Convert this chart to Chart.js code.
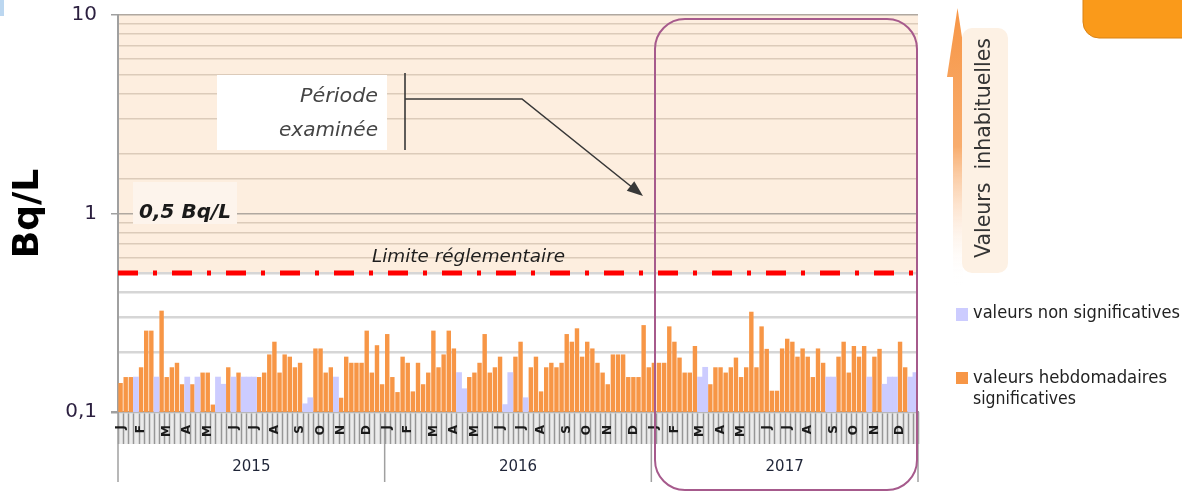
<!DOCTYPE html>
<html>
<head>
<meta charset="utf-8">
<script src="https://cdn.jsdelivr.net/npm/chart.js@4.4.1/dist/chart.umd.min.js"></script>
<style>
  html, body { margin: 0; padding: 0; background: #fff; }
  #wrap { width: 1182px; height: 495px; position: relative; }
</style>
</head>
<body>
<div id="wrap"><canvas id="chart" width="1182" height="495"></canvas></div>
<script>
// --- data (Bq/L, one bar per week) ---
const years = ['2015', '2016', '2017'];
const monthLetters = ['J', 'F', 'M', 'A', 'M', 'J', 'J', 'A', 'S', 'O', 'N', 'D'];
const monthStartWeeks = [0, 4, 9, 13, 17, 22, 26, 30, 35, 39, 43, 48];

const values2015 = [0.14, 0.15, 0.15, 0.15, 0.168, 0.257, 0.257, 0.15, 0.324, 0.15, 0.168, 0.177, 0.138,
  0.15, 0.138, 0.15, 0.158, 0.158, 0.109, 0.15, 0.138, 0.168, 0.15, 0.158, 0.15, 0.15,
  0.15, 0.15, 0.158, 0.195, 0.226, 0.158, 0.195, 0.19, 0.168, 0.177, 0.11, 0.118, 0.209,
  0.209, 0.158, 0.168, 0.15, 0.118, 0.19, 0.177, 0.177, 0.177, 0.257, 0.158, 0.217, 0.138];
const signif2015 = [1, 1, 1, 0, 1, 1, 1, 0, 1, 1, 1, 1, 1, 0, 1, 0, 1, 1, 1, 0, 0, 1, 0, 1, 0, 0,
  0, 1, 1, 1, 1, 1, 1, 1, 1, 1, 0, 0, 1, 1, 1, 1, 0, 1, 1, 1, 1, 1, 1, 1, 1, 1];

const values2016 = [0.247, 0.15, 0.126, 0.19, 0.177, 0.127, 0.177, 0.138, 0.158, 0.257, 0.168, 0.195, 0.257,
  0.209, 0.158, 0.131, 0.15, 0.158, 0.177, 0.247, 0.158, 0.168, 0.19, 0.109, 0.158, 0.19,
  0.226, 0.118, 0.168, 0.19, 0.127, 0.168, 0.177, 0.168, 0.177, 0.247, 0.226, 0.264, 0.19,
  0.226, 0.209, 0.177, 0.158, 0.138, 0.195, 0.195, 0.195, 0.15, 0.15, 0.15, 0.274, 0.168];
const signif2016 = [1, 1, 1, 1, 1, 1, 1, 1, 1, 1, 1, 1, 1, 1, 0, 0, 1, 1, 1, 1, 1, 1, 1, 0, 0, 1,
  1, 0, 1, 1, 1, 1, 1, 1, 1, 1, 1, 1, 1, 1, 1, 1, 1, 1, 1, 1, 1, 1, 1, 1, 1, 1];

const values2017 = [0.177, 0.177, 0.177, 0.27, 0.226, 0.188, 0.158, 0.158, 0.215, 0.15, 0.168, 0.138, 0.168,
  0.168, 0.158, 0.168, 0.188, 0.15, 0.168, 0.32, 0.168, 0.27, 0.208, 0.128, 0.128, 0.209,
  0.234, 0.226, 0.19, 0.209, 0.19, 0.15, 0.209, 0.177, 0.15, 0.15, 0.19, 0.226, 0.158,
  0.215, 0.19, 0.215, 0.15, 0.19, 0.208, 0.138, 0.15, 0.15, 0.226, 0.168, 0.15, 0.158];
const signif2017 = [1, 1, 1, 1, 1, 1, 1, 1, 1, 0, 0, 1, 1, 1, 1, 1, 1, 1, 1, 1, 1, 1, 1, 1, 1, 1,
  1, 1, 1, 1, 1, 1, 1, 1, 0, 0, 1, 1, 1, 1, 1, 1, 0, 1, 1, 0, 0, 0, 1, 1, 0, 0];

const LIMIT = 0.5;       // limite réglementaire
const WEEKS = 52;

const allValues = values2015.concat(values2016, values2017);
const allSignif = signif2015.concat(signif2016, signif2017);

const labels = [];
years.forEach(() => {
  for (let w = 0; w < WEEKS; w++) {
    const m = monthStartWeeks.indexOf(w);
    labels.push(m >= 0 ? monthLetters[m] : '');
  }
});

const near = (a, b) => Math.abs(a - b) < 1e-6 * Math.max(1, b);

// stretch/squeeze text to the width it has in the picture
function fitText(ctx, txt, x, y, w, align) {
  const m = ctx.measureText(txt).width;
  ctx.save();
  ctx.translate(x, y);
  ctx.scale(w / m, 1);
  ctx.textAlign = align;
  ctx.fillText(txt, 0, 0);
  ctx.restore();
}

const decorPlugin = {
  id: 'decor',
  beforeDraw(chart) {
    const { ctx, chartArea: a, scales: { x, y } } = chart;
    ctx.save();
    // shaded "unusual values" zone above the limit
    const yLim = y.getPixelForValue(LIMIT);
    ctx.fillStyle = '#fdeedf';
    ctx.fillRect(a.left, a.top, a.right - a.left, yLim - a.top);

    // hatched week band under the axis
    const half = (x.getPixelForValue(1) - x.getPixelForValue(0)) / 2;
    ctx.fillStyle = '#ebebeb';
    ctx.fillRect(a.left, a.bottom, a.right - a.left, 32);
    ctx.strokeStyle = '#969696';
    ctx.lineWidth = 1.5;
    for (let i = 0; i <= allValues.length; i++) {
      const px = Math.round(x.getPixelForValue(i) - half) + 0.5;
      ctx.beginPath();
      ctx.moveTo(px, a.bottom);
      ctx.lineTo(px, a.bottom + 32);
      ctx.stroke();
    }
    // year separators and labels
    ctx.strokeStyle = '#a0a0a0';
    ctx.lineWidth = 1.5;
    ctx.fillStyle = '#1f2538';
    ctx.font = '15px "DejaVu Sans"';
    ctx.textAlign = 'center';
    ctx.textBaseline = 'middle';
    years.forEach((yr, k) => {
      const x0 = x.getPixelForValue(k * WEEKS) - half;
      const x1 = x.getPixelForValue((k + 1) * WEEKS - 1) + half;
      ctx.beginPath();
      ctx.moveTo(x0, a.bottom);
      ctx.lineTo(x0, a.bottom + 70);
      ctx.stroke();
      if (k === years.length - 1) {
        ctx.beginPath();
        ctx.moveTo(x1, a.bottom);
        ctx.lineTo(x1, a.bottom + 70);
        ctx.stroke();
      }
      ctx.fillText(yr, (x0 + x1) / 2, a.bottom + 55);
    });
    ctx.restore();
  },
  afterDraw(chart) {
    const { ctx, chartArea: a, scales: { y } } = chart;
    ctx.save();
    // regulatory limit, dash-dot red line
    const yLim = Math.round(y.getPixelForValue(LIMIT));
    ctx.strokeStyle = '#ff0000';
    ctx.lineWidth = 5;
    ctx.setLineDash([20, 15, 4, 15]);
    ctx.beginPath();
    ctx.moveTo(a.left, yLim);
    ctx.lineTo(a.right, yLim);
    ctx.stroke();
    ctx.setLineDash([]);

    ctx.fillStyle = '#1e1e1e';
    ctx.font = 'italic 18px "DejaVu Sans"';
    ctx.textBaseline = 'alphabetic';
    fitText(ctx, 'Limite réglementaire', 372, yLim - 11, 193, 'left');

    // "0,5 Bq/L" label
    ctx.fillStyle = '#fdf4ec';
    ctx.fillRect(133, 182, 104, 42);
    ctx.fillStyle = '#1a1a1a';
    ctx.font = 'italic bold 19px "DejaVu Sans"';
    fitText(ctx, '0,5 Bq/L', 139, 218, 92, 'left');

    // "Période examinée" call-out
    ctx.fillStyle = '#ffffff';
    ctx.fillRect(217, 75, 170, 75);
    ctx.fillStyle = '#454545';
    ctx.font = 'italic 20px "DejaVu Sans"';
    fitText(ctx, 'Période', 378, 102, 78, 'right');
    fitText(ctx, 'examinée', 378, 136, 99, 'right');
    ctx.strokeStyle = '#383838';
    ctx.lineWidth = 1.6;
    ctx.beginPath();
    ctx.moveTo(405, 73); ctx.lineTo(405, 150);
    ctx.moveTo(405, 99); ctx.lineTo(522, 99); ctx.lineTo(633, 188);
    ctx.stroke();
    const tipX = 643, tipY = 196, dx = 0.78, dy = 0.625;
    ctx.fillStyle = '#383838';
    ctx.beginPath();
    ctx.moveTo(tipX, tipY);
    ctx.lineTo(tipX - 16 * dx - 6 * dy, tipY - 16 * dy + 6 * dx);
    ctx.lineTo(tipX - 16 * dx + 6 * dy, tipY - 16 * dy - 6 * dx);
    ctx.closePath();
    ctx.fill();

    // examined period frame
    ctx.strokeStyle = '#a65a8c';
    ctx.lineWidth = 2;
    ctx.beginPath();
    ctx.roundRect(655, 19, 262, 471, 30);
    ctx.stroke();

    // "Valeurs inhabituelles" arrow and label
    const g = ctx.createLinearGradient(0, 8, 0, 285);
    g.addColorStop(0, '#f79646');
    g.addColorStop(0.5, '#f8ad6e');
    g.addColorStop(1, 'rgba(255,255,255,0)');
    ctx.fillStyle = g;
    ctx.fillRect(953, 75, 10, 210);
    ctx.beginPath();
    ctx.moveTo(947, 77); ctx.lineTo(968, 77); ctx.lineTo(957.5, 8);
    ctx.closePath();
    ctx.fill();
    ctx.fillStyle = '#fdf1e4';
    ctx.beginPath();
    ctx.roundRect(962, 28, 46, 245, 10);
    ctx.fill();
    ctx.save();
    ctx.translate(990, 148);
    ctx.rotate(-Math.PI / 2);
    ctx.fillStyle = '#333333';
    ctx.font = '21px "DejaVu Sans"';
    fitText(ctx, 'Valeurs  inhabituelles', 0, 0, 220, 'center');
    ctx.restore();

    // legend
    ctx.fillStyle = '#ccccff';
    ctx.fillRect(956, 308, 12, 13);
    ctx.fillStyle = '#f79646';
    ctx.fillRect(956, 372, 12, 12);
    ctx.fillStyle = '#222222';
    ctx.font = '17px "DejaVu Sans"';
    fitText(ctx, 'valeurs non significatives', 973, 318, 207, 'left');
    fitText(ctx, 'valeurs hebdomadaires', 973, 383, 194, 'left');
    fitText(ctx, 'significatives', 973, 404, 103, 'left');

    // orange corner tab and small blue mark
    ctx.fillStyle = '#fa9a1a';
    ctx.strokeStyle = '#d98214';
    ctx.lineWidth = 1;
    ctx.beginPath();
    ctx.roundRect(1083, -20, 130, 58, 16);
    ctx.fill();
    ctx.stroke();
    ctx.fillStyle = '#bcd7f0';
    ctx.fillRect(0, 0, 4, 16);
    ctx.restore();
  }
};

new Chart(document.getElementById('chart'), {
  type: 'bar',
  data: {
    labels: labels,
    datasets: [
      {
        label: 'valeurs non significatives',
        data: allValues.map((v, i) => allSignif[i] ? null : v),
        backgroundColor: '#ccccff',
        grouped: false,
        barPercentage: 1,
        categoryPercentage: 1
      },
      {
        label: 'valeurs hebdomadaires significatives',
        data: allValues.map((v, i) => allSignif[i] ? v : null),
        backgroundColor: '#f79646',
        grouped: false,
        barPercentage: 0.86,
        categoryPercentage: 1
      }
    ]
  },
  options: {
    responsive: false,
    animation: false,
    layout: { padding: { top: 15, right: 264, bottom: 0, left: 0 } },
    plugins: { legend: { display: false }, tooltip: { enabled: false } },
    scales: {
      x: {
        grid: { display: false },
        border: { display: true, color: '#9a9a9a', width: 1.5 },
        ticks: {
          autoSkip: false, maxRotation: 90, minRotation: 90, padding: 5,
          color: '#1a1a1a', font: { family: 'DejaVu Sans', size: 12, weight: 'bold' }
        },
        afterFit(s) { s.height = 83; s.paddingLeft = 0; s.paddingRight = 0; }
      },
      y: {
        type: 'logarithmic',
        min: 0.1,
        max: 10,
        afterFit(s) { s.width = 118; s.paddingTop = 0; s.paddingBottom = 0; },
        border: { color: '#a0a0a0', width: 2 },
        grid: {
          tickLength: 7,
          color: c => {
            const v = c.tick ? c.tick.value : 0;
            if (near(v, 10) || near(v, 1)) return '#b0a8a0';
            return v > LIMIT ? '#dccbba' : '#d6d6d6';
          },
          lineWidth: c => (c.tick && c.tick.value > LIMIT) ? 1.5 : 2.5,
          tickColor: c => {
            const v = c.tick ? c.tick.value : 0;
            return (near(v, 10) || near(v, 1) || near(v, 0.1)) ? '#a0a0a0' : 'rgba(0,0,0,0)';
          }
        },
        ticks: {
          autoSkip: false,
          padding: 14,
          color: '#2b1f3f',
          font: { family: 'DejaVu Sans', size: 20 },
          callback: v => near(v, 10) ? '10' : near(v, 1) ? '1' : near(v, 0.1) ? '0,1' : ''
        },
        title: {
          display: true,
          text: 'Bq/L',
          color: '#000',
          font: { family: 'DejaVu Sans', size: 36, weight: 'bold' },
          padding: { top: 7, bottom: 0 }
        }
      }
    }
  },
  plugins: [decorPlugin]
});
</script>
</body>
</html>
